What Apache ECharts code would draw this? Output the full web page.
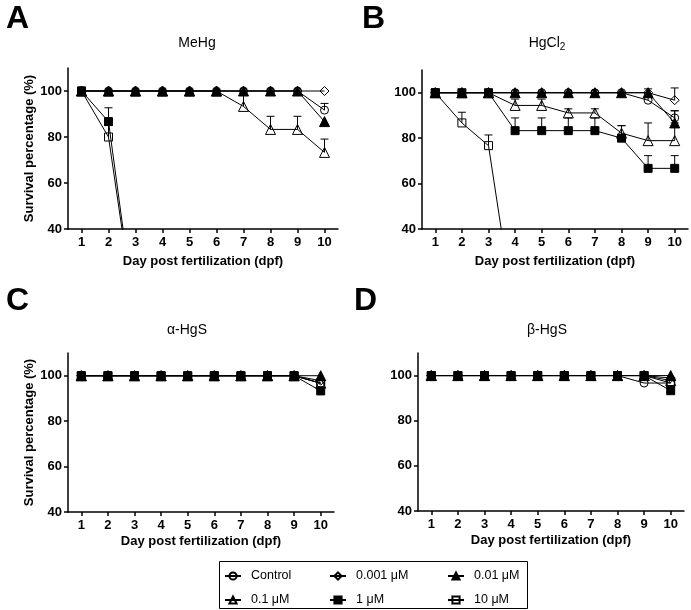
<!DOCTYPE html>
<html>
<head>
<meta charset="utf-8">
<script src="https://cdn.jsdelivr.net/npm/echarts@6/dist/echarts.min.js"></script>
<style>html,body{margin:0;padding:0;background:#fff}#c{width:691px;height:610px}</style>
</head>
<body>
<div id="c"></div>
<script>
// ---- data ----
const days = ['1','2','3','4','5','6','7','8','9','10'];
const yTicks = [40, 60, 80, 100];
const groups = ['Control', '0.001 μM', '0.01 μM', '0.1 μM', '1 μM', '10 μM'];
const panelTitles = ['MeHg', 'HgCl{s|2}', 'α-HgS', 'β-HgS'];
const panelLetters = ['A', 'B', 'C', 'D'];

// MeHg
const mehgControl = [100,100,100,100,100,100,100,100,100,91.7];
const mehg0001    = [100,100,100,100,100,100,100,100,100,100];
const mehg001     = [100,100,100,100,100,100,100,100,100,86.7];
const mehg01      = [100,100,100,100,100,100,93.3,83.3,83.3,73.3];
const mehg1       = [100,86.7,0,0,0,0,0,0,0,0];
const mehg10      = [100,80,0,0,0,0,0,0,0,0];
const mehgControlErr = [0,0,0,0,0,0,0,0,0,2.9];
const mehg0001Err    = [0,0,0,0,0,0,0,0,0,0];
const mehg001Err     = [0,0,0,0,0,0,0,0,0,0];
const mehg01Err      = [0,0,0,0,0,0,6.7,5.7,5.7,5.8];
const mehg1Err       = [0,6,0,0,0,0,0,0,0,0];
const mehg10Err      = [0,5,0,0,0,0,0,0,0,0];

// HgCl2
const hgcl2Control = [100,100,100,100,100,100,100,100,96.7,88.9];
const hgcl20001    = [100,100,100,100,100,100,100,100,100,96.7];
const hgcl2001     = [100,100,100,100,100,100,100,100,100,86.7];
const hgcl201      = [100,100,100,94.4,94.4,91.1,91.1,82.2,78.9,78.9];
const hgcl21       = [100,100,100,83.3,83.3,83.3,83.3,80,66.7,66.7];
const hgcl210      = [100,86.7,76.7,0,0,0,0,0,0,0];
const hgcl2ControlErr = [0,0,0,0,0,0,0,0,5,3.2];
const hgcl20001Err    = [0,0,0,0,0,0,0,0,0,5.4];
const hgcl2001Err     = [0,0,0,0,0,0,0,0,0,5.3];
const hgcl201Err      = [0,0,0,2.8,2.8,1.8,1.8,3.3,7.8,7.8];
const hgcl21Err       = [0,0,0,5.6,5.6,5.6,5.6,5.5,5.6,5.6];
const hgcl210Err      = [0,4.7,4.7,0,0,0,0,0,0,0];

// alpha-HgS
const aHgsControl = [100,100,100,100,100,100,100,100,100,96.7];
const aHgs0001    = [100,100,100,100,100,100,100,100,100,97.8];
const aHgs001     = [100,100,100,100,100,100,100,100,100,100];
const aHgs01      = [100,100,100,100,100,100,100,100,100,96.7];
const aHgs1       = [100,100,100,100,100,100,100,100,100,93.3];
const aHgs10      = [100,100,100,100,100,100,100,100,100,96.7];
const aHgsControlErr = [0,0,0,0,0,0,0,0,0,0];
const aHgs0001Err    = [0,0,0,0,0,0,0,0,0,0];
const aHgs001Err     = [0,0,0,0,0,0,0,0,0,0];
const aHgs01Err      = [0,0,0,0,0,0,0,0,0,0];
const aHgs1Err       = [0,0,0,0,0,0,0,0,0,0];
const aHgs10Err      = [0,0,0,0,0,0,0,0,0,0];

// beta-HgS
const bHgsControl = [100,100,100,100,100,100,100,100,96.7,96.7];
const bHgs0001    = [100,100,100,100,100,100,100,100,100,98.9];
const bHgs001     = [100,100,100,100,100,100,100,100,100,100];
const bHgs01      = [100,100,100,100,100,100,100,100,100,97.8];
const bHgs1       = [100,100,100,100,100,100,100,100,100,93.3];
const bHgs10      = [100,100,100,100,100,100,100,100,100,96.7];
const bHgsControlErr = [0,0,0,0,0,0,0,0,0,0];
const bHgs0001Err    = [0,0,0,0,0,0,0,0,0,0];
const bHgs001Err     = [0,0,0,0,0,0,0,0,0,0];
const bHgs01Err      = [0,0,0,0,0,0,0,0,0,0];
const bHgs1Err       = [0,0,0,0,0,0,0,0,0,0];
const bHgs10Err      = [0,0,0,0,0,0,0,0,0,0];

const panelValues = [
  [mehgControl, mehg0001, mehg001, mehg01, mehg1, mehg10],
  [hgcl2Control, hgcl20001, hgcl2001, hgcl201, hgcl21, hgcl210],
  [aHgsControl, aHgs0001, aHgs001, aHgs01, aHgs1, aHgs10],
  [bHgsControl, bHgs0001, bHgs001, bHgs01, bHgs1, bHgs10]
];
const panelErrors = [
  [mehgControlErr, mehg0001Err, mehg001Err, mehg01Err, mehg1Err, mehg10Err],
  [hgcl2ControlErr, hgcl20001Err, hgcl2001Err, hgcl201Err, hgcl21Err, hgcl210Err],
  [aHgsControlErr, aHgs0001Err, aHgs001Err, aHgs01Err, aHgs1Err, aHgs10Err],
  [bHgsControlErr, bHgs0001Err, bHgs001Err, bHgs01Err, bHgs1Err, bHgs10Err]
];

// ---- styles / layout ----
const FONT = 'Liberation Sans, Arial, sans-serif';
const T = 'rgba(0,0,0,0)';
const groupStyle = [
  {symbol: 'circle',   size: 8,  fill: T},
  {symbol: 'diamond',  size: 9,  fill: T},
  {symbol: 'triangle', size: 10, fill: '#000'},
  {symbol: 'triangle', size: 10, fill: T},
  {symbol: 'rect',     size: 8,  fill: '#000'},
  {symbol: 'rect',     size: 8,  fill: T}
];
const grids = [
  {left: 68,  top: 68,  width: 270, height: 161},
  {left: 422, top: 70,  width: 266, height: 159},
  {left: 68,  top: 353, width: 266, height: 159},
  {left: 418, top: 353, width: 266, height: 158}
];
const titlePos = [[197, 43], [547, 43], [187, 330], [547, 330]];
const letterPos = [[6, 19], [362, 19], [6, 301], [354, 301]];

const xAxes = grids.map((g, i) => ({
  type: 'category', gridIndex: i, data: days, boundaryGap: true,
  axisLine: {show: true, lineStyle: {color: '#000', width: 1.5}},
  axisTick: {show: true, alignWithLabel: true, interval: 0, length: 4, lineStyle: {color: '#000', width: 1.5}},
  axisLabel: {interval: 0, color: '#000', fontWeight: 'bold', fontSize: 13, fontFamily: FONT, margin: 7},
  splitLine: {show: false},
  name: 'Day post fertilization (dpf)', nameLocation: 'middle', nameGap: i < 2 ? 26 : 23,
  nameTextStyle: {color: '#000', fontWeight: 'bold', fontSize: 13, fontFamily: FONT}
}));
const yAxes = grids.map((g, i) => ({
  type: 'value', gridIndex: i, min: 40, max: 110,
  axisLine: {show: true, lineStyle: {color: '#000', width: 1.5}},
  axisTick: {show: true, length: 4, customValues: yTicks, lineStyle: {color: '#000', width: 1.5}},
  axisLabel: {customValues: yTicks, color: '#000', fontWeight: 'bold', fontSize: 13, fontFamily: FONT, margin: 6},
  splitLine: {show: false},
  name: (i === 0 || i === 2) ? 'Survival percentage (%)' : '',
  nameLocation: 'middle', nameGap: 31, nameRotate: 90,
  nameTextStyle: {color: '#000', fontWeight: 'bold', fontSize: 13, fontFamily: FONT}
}));

const series = [];
panelValues.forEach((vals, p) => {
  // error bars (upward)
  vals.forEach((arr, gi) => {
    const errs = panelErrors[p][gi];
    const data = [];
    arr.forEach((v, k) => { if (errs[k] > 0) data.push([k, v, errs[k]]); });
    if (data.length) {
      series.push({
        type: 'custom', xAxisIndex: p, yAxisIndex: p, z: 1, clip: true, silent: true,
        encode: {x: 0, y: 1},
        data: data,
        renderItem: function (params, api) {
          const x = api.value(0), v = api.value(1), e = api.value(2);
          const a = api.coord([x, v]);
          const b = api.coord([x, v + e]);
          return {type: 'group', children: [
            {type: 'line', shape: {x1: a[0], y1: a[1], x2: b[0], y2: b[1]}, style: {stroke: '#000', lineWidth: 1}},
            {type: 'line', shape: {x1: b[0] - 4, y1: b[1], x2: b[0] + 4, y2: b[1]}, style: {stroke: '#000', lineWidth: 1}}
          ]};
        }
      });
    }
  });
  vals.forEach((arr, gi) => {
    const st = groupStyle[gi];
    series.push({
      type: 'line', name: groups[gi], xAxisIndex: p, yAxisIndex: p, z: 2 + gi,
      data: arr, clip: true, symbol: st.symbol, symbolSize: st.size, showAllSymbol: true,
      lineStyle: {color: '#000', width: 1},
      itemStyle: {color: st.fill, borderColor: '#000', borderWidth: 1},
      emphasis: {disabled: true}
    });
  });
});

const legendCommon = {
  orient: 'vertical', itemWidth: 16, itemHeight: 9, itemGap: 10, padding: 0, height: 40,
  selectedMode: false,
  textStyle: {color: '#000', fontSize: 12.5, fontFamily: FONT, lineHeight: 14, padding: [0, 0, 0, 5]}
};
const legends = [
  Object.assign({data: [groups[0], groups[3]], left: 224, top: 569}, legendCommon),
  Object.assign({data: [groups[1], groups[4]], left: 329, top: 569}, legendCommon),
  Object.assign({data: [groups[2], groups[5]], left: 447, top: 569}, legendCommon)
];

const graphics = [];
panelTitles.forEach((t, i) => {
  graphics.push({type: 'text', x: titlePos[i][0], y: titlePos[i][1], z: 10,
    style: {text: t, fill: '#000', fontSize: 14, fontFamily: FONT, align: 'center', verticalAlign: 'middle',
      rich: {s: {fontSize: 10, fontFamily: FONT, fill: '#000', padding: [8, 0, 0, 0]}}}});
});
panelLetters.forEach((t, i) => {
  graphics.push({type: 'text', x: letterPos[i][0], y: letterPos[i][1], z: 10,
    style: {text: t, fill: '#000', fontSize: 32, fontWeight: 'bold', fontFamily: FONT, align: 'left', verticalAlign: 'middle'}});
});
graphics.push({type: 'rect', shape: {x: 219.5, y: 561.5, width: 308, height: 47}, z: 0,
  style: {fill: '#fff', stroke: '#000', lineWidth: 1}});

const chart = echarts.init(document.getElementById('c'), null, {renderer: 'canvas'});
chart.setOption({
  animation: false,
  backgroundColor: '#fff',
  grid: grids,
  xAxis: xAxes,
  yAxis: yAxes,
  legend: legends,
  graphic: graphics,
  series: series
});
</script>
</body>
</html>
